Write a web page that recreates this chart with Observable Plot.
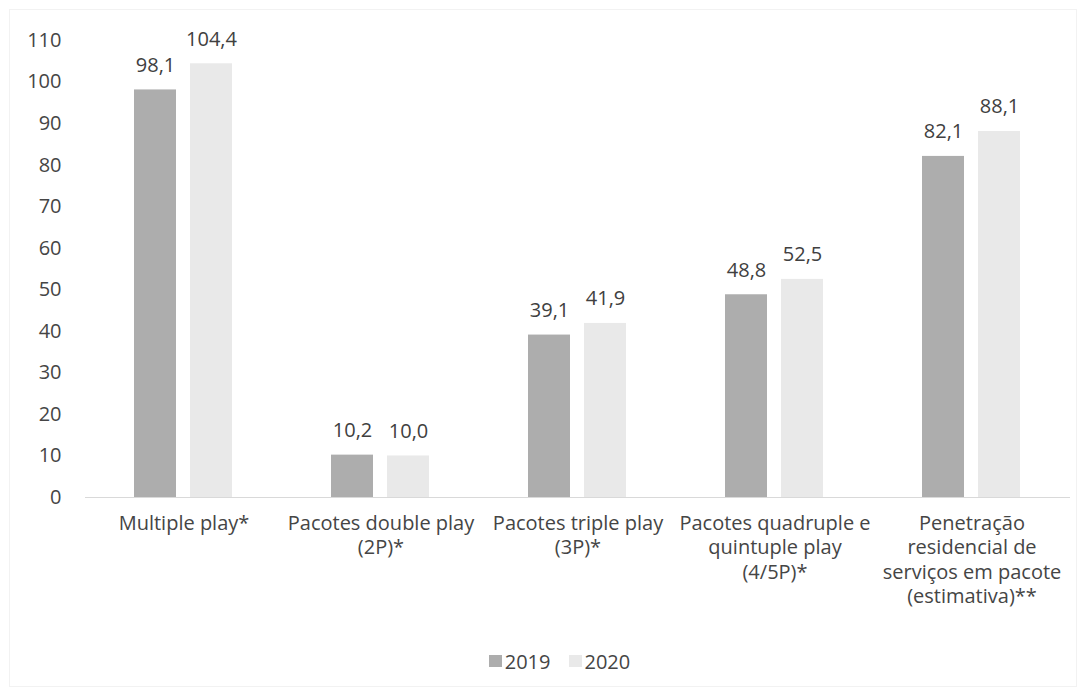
<!DOCTYPE html>
<html>
<head>
<meta charset="utf-8">
<script src="https://cdn.jsdelivr.net/npm/d3@7"></script>
<script src="https://cdn.jsdelivr.net/npm/@observablehq/plot@0.6"></script>
<style>
  html, body { margin: 0; padding: 0; background: #fff; }
  body { width: 1088px; height: 692px; position: relative; overflow: hidden; font-family: "Open Sans", Lato, sans-serif; }
  #border { position: absolute; left: 9px; top: 9px; width: 1068px; height: 678px; border: 1px solid #f2f2f2; box-sizing: border-box; pointer-events: none; }
  #chart { position: absolute; left: 0; top: 0; }
  #legend { position: absolute; left: 0; top: 647px; width: 1088px; height: 28px; display: flex; justify-content: center; align-items: center; font-size: 20px; color: #454545; padding-left: 31px; box-sizing: border-box; }
  .item { display: flex; align-items: center; margin: 0 9px; }
  .sw { width: 13px; height: 12px; margin-right: 3px; }
</style>
</head>
<body>
<div id="border"></div>
<div id="chart"></div>
<div id="legend"></div>
<script>
// Bundled-service subscriptions, 2019 vs 2020
const categories = [
  "Multiple play*",
  "Pacotes double play\n(2P)*",
  "Pacotes triple play\n(3P)*",
  "Pacotes quadruple e\nquintuple play\n(4/5P)*",
  "Penetração\nresidencial de\nserviços em pacote\n(estimativa)**"
];
const years = ["2019", "2020"];
const values2019 = [98.1, 10.2, 39.1, 48.8, 82.1];
const values2020 = [104.4, 10.0, 41.9, 52.5, 88.1];
const yTicks = [0, 10, 20, 30, 40, 50, 60, 70, 80, 90, 100, 110];
const yearColors = ["#adadad", "#e9e9e9"];

const rows = [];
categories.forEach((c, i) => {
  rows.push({category: c, year: years[0], value: values2019[i]});
  rows.push({category: c, year: years[1], value: values2020[i]});
});

const fmt = v => v.toFixed(1).replace(".", ",");
const textColor = "#454545";

const chart = Plot.plot({
  width: 1088,
  height: 645,
  marginTop: 40,
  marginBottom: 148,
  marginLeft: 85,
  marginRight: 18,
  style: {fontFamily: "'Open Sans', Lato, sans-serif", fontSize: "20px", color: textColor, background: "transparent"},
  fx: {domain: categories, padding: 0, label: null},
  x: {domain: years, paddingInner: 0.2456, paddingOuter: 0.851, axis: null},
  y: {domain: [0, 110], axis: null},
  color: {domain: years, range: yearColors},
  marks: [
    Plot.axisY({ticks: yTicks, tickSize: 0, tickPadding: 24, label: null, fontSize: 20, fill: textColor}),
    Plot.axisFx({anchor: "bottom", tickSize: 0, tickPadding: 15, label: null, lineHeight: 1.225, fontSize: 20, fill: textColor}),
    Plot.barY(rows, {fx: "category", x: "year", y: "value", fill: "year"}),
    Plot.ruleY([0], {stroke: "#d9d9d9", strokeWidth: 1.2}),
    Plot.text(rows, {fx: "category", x: "year", y: "value", text: d => fmt(d.value), dy: -18, lineAnchor: "bottom", fill: "#404040", fontSize: 20})
  ]
});
document.getElementById("chart").appendChild(chart);

// Legend below the plot
const legend = document.getElementById("legend");
years.forEach((y, i) => {
  const item = document.createElement("div");
  item.className = "item";
  const sw = document.createElement("span");
  sw.className = "sw";
  sw.style.background = yearColors[i];
  const label = document.createElement("span");
  label.textContent = y;
  item.appendChild(sw);
  item.appendChild(label);
  legend.appendChild(item);
});
</script>
</body>
</html>
